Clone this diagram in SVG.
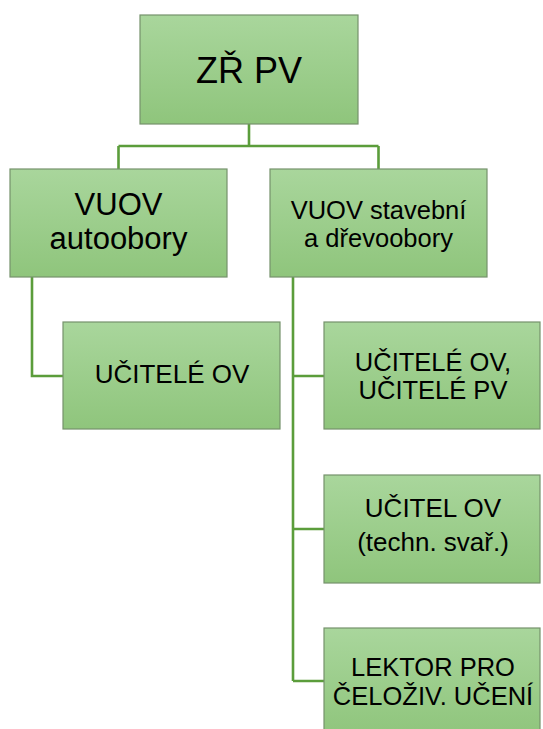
<svg xmlns="http://www.w3.org/2000/svg" width="543" height="729" viewBox="0 0 543 729">
<defs>
<linearGradient id="g" x1="0" y1="0" x2="0" y2="1">
<stop offset="0" stop-color="#a9d69c"/>
<stop offset="1" stop-color="#8fc57c"/>
</linearGradient>
<style>
.box{fill:url(#g);stroke:#76926c;stroke-width:1.2}
.t{font-family:"Liberation Sans",Arial,sans-serif;fill:#000;text-anchor:middle}
.c{fill:none;stroke:#5b9d3b;stroke-width:2.6}
</style>
</defs>
<rect width="543" height="729" fill="#fff"/>
<g id="connectors">
<path class="c" d="M249 124V146M118.5 146H378.5M118.5 146V169M378.5 146V169"/>
<path class="c" d="M32 277V376H63"/>
<path class="c" d="M293 277V681M293 376H324M293 529H324M293 681H324"/>
</g>
<g id="n-zrpv">
<rect class="box" x="140" y="15" width="218" height="109"/>
<text class="t" x="249" y="83" font-size="36">ZŘ PV</text>
</g>
<g id="n-vuov-auto">
<rect class="box" x="10" y="169" width="217" height="108"/>
<text class="t" x="118.5" y="215" font-size="31">VUOV</text>
<text class="t" x="118.5" y="249" font-size="31">autoobory</text>
</g>
<g id="n-vuov-stav">
<rect class="box" x="270" y="169" width="217" height="108"/>
<text class="t" x="378.5" y="218.5" font-size="25.5">VUOV stavební</text>
<text class="t" x="378.5" y="247" font-size="25.5">a dřevoobory</text>
</g>
<g id="n-ucitele-ov">
<rect class="box" x="63" y="322" width="217" height="107"/>
<text class="t" x="172" y="383" font-size="26">UČITELÉ OV</text>
</g>
<g id="n-ucitele-ov-pv">
<rect class="box" x="324" y="322" width="216" height="107"/>
<text class="t" x="433" y="370.5" font-size="25.5">UČITELÉ OV,</text>
<text class="t" x="433" y="399" font-size="25.5">UČITELÉ PV</text>
</g>
<g id="n-ucitel-ov">
<rect class="box" x="324" y="475" width="216" height="108"/>
<text class="t" x="433" y="517" font-size="26">UČITEL OV</text>
<text class="t" x="433" y="551" font-size="26">(techn. svař.)</text>
</g>
<g id="n-lektor">
<rect class="box" x="324" y="628" width="216" height="108"/>
<text class="t" x="433" y="676" font-size="25.5">LEKTOR PRO</text>
<text class="t" x="433" y="704.5" font-size="25.5">ČELOŽIV. UČENÍ</text>
</g>
</svg>
